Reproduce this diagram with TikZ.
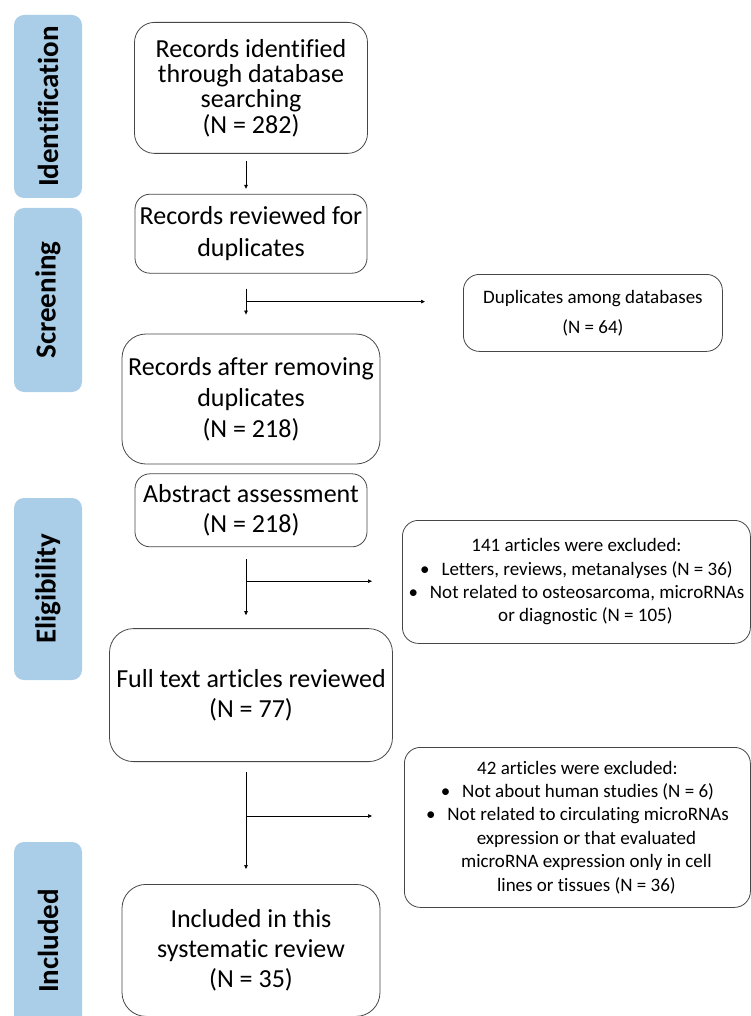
\documentclass[tikz,border=0pt]{standalone}
\usepackage{fontspec}
\setmainfont{Carlito}[Ligatures=NoCommon]
\usetikzlibrary{arrows.meta,positioning,calc}
\definecolor{stageblue}{RGB}{170,206,232}
\definecolor{boxgrey}{RGB}{70,70,70}

\begin{document}
\begin{tikzpicture}[x=1pt,y=-1pt,
 box/.style={draw=boxgrey,rounded corners=18pt,align=center,inner sep=0pt,line width=0.8pt,
   font=\fontsize{26}{31}\selectfont},
 side/.style={box,rounded corners=16pt,anchor=north west,font=\fontsize{19}{23.4}\selectfont},
 stage/.style={fill=stageblue,rounded corners=10pt,rotate=90,minimum height=68pt,inner sep=0pt,
   font=\bfseries\fontsize{29}{32}\selectfont},
 arr/.style={-{Triangle[length=4pt,width=3.5pt]},line width=0.7pt},
 node distance=40pt]
\useasboundingbox (0,0) rectangle (751,1016);
\clip (0,0) rectangle (751,1016);
% stages
\node[stage, minimum width=183pt] (sident) at (48,106.5) {Identification};
\node[stage, minimum width=184pt] (sscreen) at (48,300) {Screening};
\node[stage, minimum width=182pt] (selig) at (48,589) {Eligibility};
\node[stage, minimum width=198pt] (sincl) at (48,941) {Included};
% main column
\node[box, anchor=north, minimum width=233pt, minimum height=131pt, rounded corners=20pt,
  font=\fontsize{26}{25.3}\selectfont] (ident) at (251,22)
  {Records identified\\through database\\searching\\(N = 282)};
\node[box, below=40pt of ident, minimum width=232pt, minimum height=79pt, rounded corners=15pt,
  font=\fontsize{26}{32}\selectfont] (review) {Records reviewed for\\duplicates};
\node[box, below=60pt of review, minimum width=258pt, minimum height=130pt, rounded corners=24pt]
  (dedup) {Records after removing\\duplicates\\(N = 218)};
\node[box, below=9pt of dedup, minimum width=232pt, minimum height=73pt, rounded corners=15pt,
  font=\fontsize{26}{30}\selectfont] (abstract) {Abstract assessment\\(N = 218)};
\node[box, below=81pt of abstract, minimum width=283pt, minimum height=133pt, rounded corners=24pt,
  font=\fontsize{26}{30}\selectfont] (fulltext) {Full text articles reviewed\\(N = 77)};
\node[box, below=122pt of fulltext, minimum width=258pt, minimum height=132pt, rounded corners=24pt,
  font=\fontsize{26}{30}\selectfont] (included) {Included in this\\systematic review\\(N = 35)};
% excluded records
\node[side, minimum width=259pt, minimum height=77pt, font=\fontsize{19}{30}\selectfont] (dup)
  at (463,274) {Duplicates among databases\\(N = 64)};
\node[side, minimum width=348pt, minimum height=123pt] (excla) at (402,520)
  {141 articles were excluded:\\
   \textbullet\hspace{12pt}Letters, reviews, metanalyses (N = 36)\\
   \textbullet\hspace{12pt}Not related to osteosarcoma, microRNAs\\
   \hspace*{18pt}or diagnostic (N = 105)};
\node[side, minimum width=346pt, minimum height=160pt] (exclb) at (404,747)
  {42 articles were excluded:\\
   \textbullet\hspace{12pt}Not about human studies (N = 6)\\
   \textbullet\hspace{12pt}Not related to circulating microRNAs\\
   \hspace*{18pt}expression or that evaluated\\
   \hspace*{18pt}microRNA expression only in cell\\
   \hspace*{18pt}lines or tissues (N = 36)};
% arrows
\draw[arr, shorten <=7pt, shorten >=5pt] ([xshift=-5pt]ident.south) -- ([xshift=-5pt]review.north);
\draw[arr, shorten <=15pt, shorten >=19pt] ([xshift=-5pt]review.south) -- ([xshift=-5pt]review.south |- dedup.north);
\draw[arr, shorten <=12pt, shorten >=13pt] ([xshift=-5pt]abstract.south) -- ([xshift=-5pt]abstract.south |- fulltext.north);
\draw[arr, shorten <=10pt, shorten >=15pt] ([xshift=-5pt]fulltext.south) -- ([xshift=-5pt]fulltext.south |- included.north);
\coordinate (bdup) at ($([xshift=-5pt]review.south)+(0,28)$);
\coordinate (bexa) at ($([xshift=-5pt]abstract.south)+(0,34)$);
\coordinate (bexb) at ($([xshift=-5pt]fulltext.south)+(0,54)$);
\draw[arr, shorten >=38pt] (bdup) -- (bdup -| dup.west);
\draw[arr, shorten >=30pt] (bexa) -- (bexa -| excla.west);
\draw[arr, shorten >=32pt] (bexb) -- (bexb -| exclb.west);
\end{tikzpicture}
\end{document}
